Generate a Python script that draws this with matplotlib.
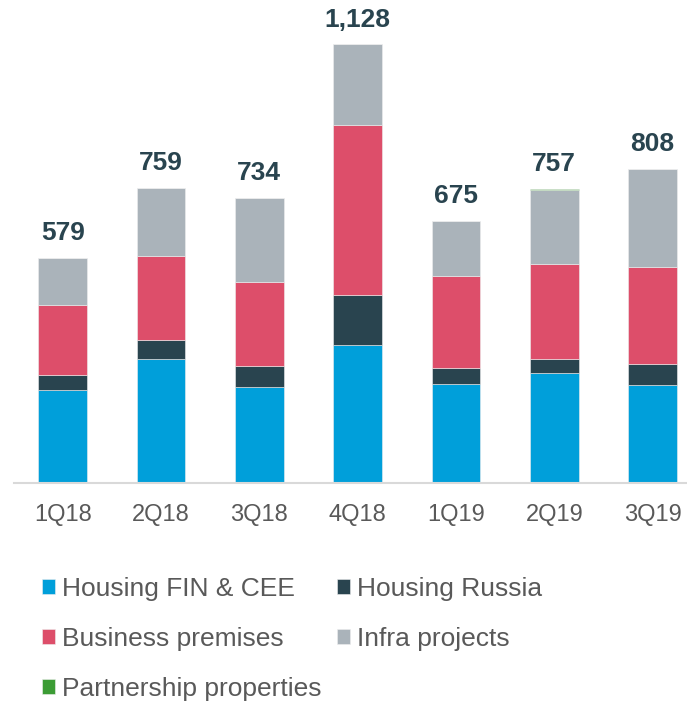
import matplotlib
matplotlib.use('Agg')
import matplotlib.pyplot as plt
import numpy as np

plt.rcParams['font.family'] = ['Liberation Sans', 'DejaVu Sans']

quarters = ['1Q18', '2Q18', '3Q18', '4Q18', '1Q19', '2Q19', '3Q19']
totals = [579, 759, 734, 1128, 675, 757, 808]

housing_fin_cee = [240, 319, 246, 355, 254, 283, 251]
housing_russia = [37, 50, 56, 128, 42, 36, 54]
business_premises = [180, 214, 214, 438, 237, 245, 251]
infra_projects = [122, 176, 218, 207, 142, 189, 252]
partnership_properties = [0, 0, 0, 0, 0, 4, 0]

series = [
    ('Housing FIN & CEE', housing_fin_cee, '#009FDA'),
    ('Housing Russia', housing_russia, '#29444F'),
    ('Business premises', business_premises, '#DD4E6A'),
    ('Infra projects', infra_projects, '#AAB3BA'),
    ('Partnership properties', partnership_properties, '#3C9C35'),
]

W, H = 687, 701
fig = plt.figure(figsize=(W / 100, H / 100), dpi=100)
# axes spans from the left edge of the axis line down to the baseline
ax = fig.add_axes([14 / W, (H - 483) / H, (W - 14) / W, 483 / H])

xs = np.arange(len(quarters))
bottom = np.zeros(len(quarters))
handles = {}
last = None
for name, vals, color in series:
    vals = np.array(vals, dtype=float)
    last = ax.bar(xs, vals, 0.495, bottom=bottom, color=color,
                  edgecolor='#EEEEEE', linewidth=0.4, label=name)
    handles[name] = last
    bottom += vals

ax.bar_label(last, labels=[format(t, ',') for t in totals], padding=9,
             fontsize=19, fontweight='bold', color='#29444F')

ax.set_xlim(-0.495, 6.35)
ax.set_ylim(0, 1242)
ax.set_xticks(xs)
ax.set_xticklabels(quarters, fontsize=17, color='#595959')
ax.tick_params(axis='x', length=0, pad=15)
ax.set_yticks([])
for sp in ['top', 'right', 'left']:
    ax.spines[sp].set_visible(False)
ax.spines['bottom'].set_color('#D9D9D9')
ax.spines['bottom'].set_linewidth(1.5)

order = ['Housing FIN & CEE', 'Business premises', 'Partnership properties',
         'Housing Russia', 'Infra projects']
leg = fig.legend([handles[n] for n in order], order, ncol=2,
                 loc='upper left', bbox_to_anchor=(42 / W, (H - 577) / H),
                 frameon=False, fontsize=19, handlelength=0.5, handleheight=0.5,
                 handletextpad=0.25, columnspacing=0.6, labelspacing=0.98,
                 borderpad=0, borderaxespad=0)
for t in leg.get_texts():
    t.set_color('#595959')

fig.savefig('out.png', dpi=100)
